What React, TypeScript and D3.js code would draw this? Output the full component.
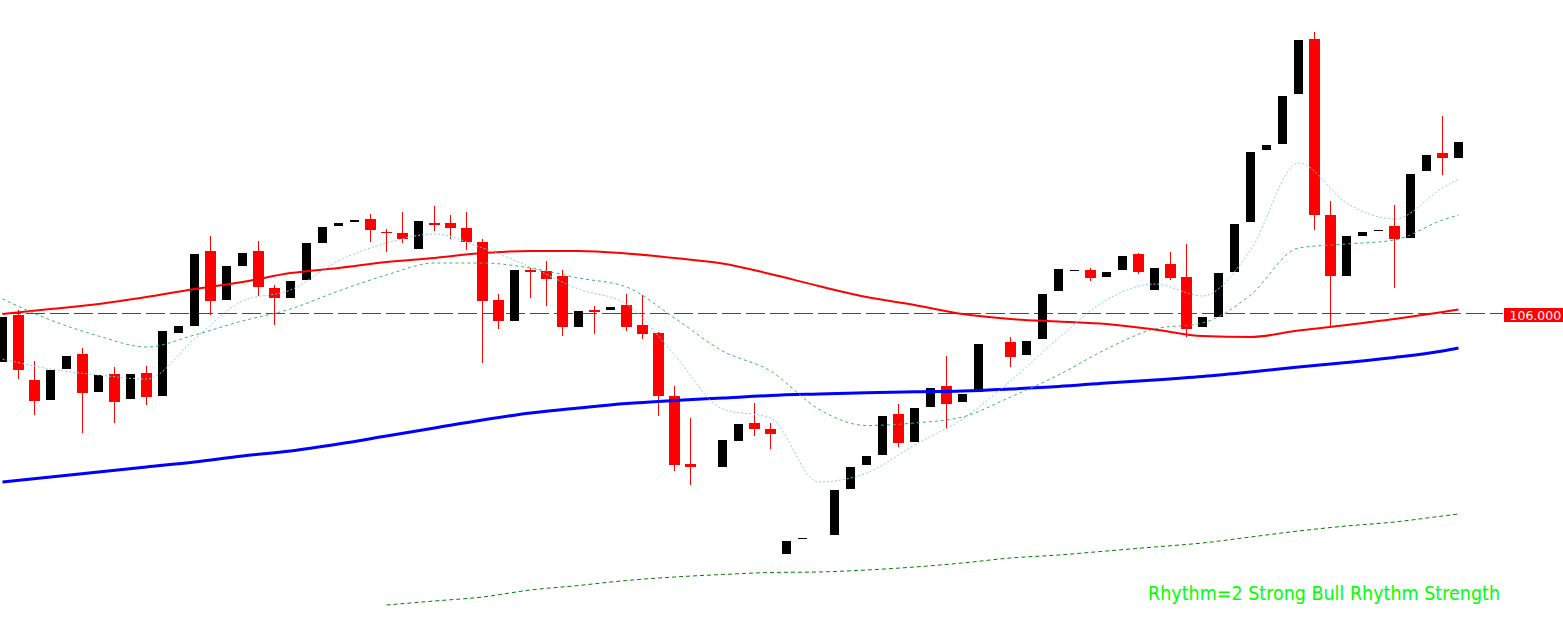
import React from 'react';
import * as d3 from 'd3';

const W = 1563;
const H = 622;

// OHLC per bar (null = no bar drawn)
const opens: (number | null)[] = [
  105.52, 105.99, 105.34, 105.14, 105.45, 105.60, 105.22, 105.40, 105.15, 105.41,
  105.18, 105.81, 105.88, 106.63, 106.14, 106.48, 106.63, 106.26, 106.16, 106.34,
  106.71, 106.88, 106.92, 106.95, 106.82, 106.81, 106.65, 106.91, 106.91, 106.86,
  106.72, 106.14, 105.93, 106.44, 106.43, 106.38, 105.87, 106.04, 106.04, 106.09,
  105.89, 105.81, 105.18, 104.50, null, 104.47, 104.73, 104.91, 104.85, 103.60,
  103.75, null, 103.79, 104.25, 104.49, 104.59, 105.00, 104.72, 105.07, 105.28,
  105.12, 105.22, null, 105.72, 105.59, 105.75, 106.23, 106.43, 106.44, 106.37,
  106.44, 106.60, 106.24, 106.50, 106.37, 105.87, 105.97, 106.42, 106.92, 107.64,
  107.70, 108.20, 108.75, 106.99, 106.38, 106.78, 106.83, 106.88, 106.76, 107.43,
  107.61, 107.56,
];
const highs: (number | null)[] = [
  105.97, 106.04, 105.53, 105.44, 105.58, 105.66, 105.39, 105.47, 105.40, 105.48,
  105.83, 105.88, 106.60, 106.78, 106.48, 106.61, 106.73, 106.29, 106.33, 106.71,
  106.87, 106.91, 106.94, 107.00, 106.85, 107.02, 106.93, 107.08, 106.99, 107.02,
  106.75, 106.20, 106.44, 106.46, 106.53, 106.44, 106.03, 106.08, 106.07, 106.20,
  106.19, 105.82, 105.28, 104.96, null, 104.74, 104.90, 105.11, 104.91, 103.73,
  103.76, null, 104.24, 104.47, 104.58, 104.98, 105.10, 105.06, 105.26, 105.58,
  105.20, 105.70, null, 105.77, 105.73, 106.20, 106.45, 106.44, 106.46, 106.42,
  106.58, 106.61, 106.46, 106.62, 106.70, 105.97, 106.41, 106.90, 107.62, 107.69,
  108.18, 108.74, 108.82, 107.13, 106.78, 106.82, 106.84, 107.09, 107.40, 107.59,
  107.98, 107.72,
];
const lows: (number | null)[] = [
  105.52, 105.35, 104.99, 105.14, 105.45, 104.81, 105.22, 104.91, 105.15, 105.09,
  105.18, 105.81, 105.88, 105.99, 106.14, 106.48, 106.18, 105.89, 106.16, 106.34,
  106.71, 106.88, 106.92, 106.72, 106.62, 106.71, 106.65, 106.83, 106.75, 106.64,
  105.51, 105.85, 105.93, 106.16, 106.08, 105.78, 105.87, 105.80, 106.04, 105.83,
  105.75, 104.98, 104.43, 104.29, null, 104.47, 104.73, 104.78, 104.65, 103.60,
  103.75, null, 103.79, 104.25, 104.49, 104.59, 104.67, 104.72, 105.07, 104.85,
  105.12, 105.22, null, 105.47, 105.59, 105.75, 106.23, 106.43, 106.33, 106.37,
  106.44, 106.40, 106.24, 106.34, 105.77, 105.87, 105.97, 106.42, 106.92, 107.64,
  107.70, 108.20, 106.84, 105.86, 106.38, 106.78, 106.83, 106.26, 106.76, 107.43,
  107.39, 107.56,
];
const closes: (number | null)[] = [
  105.97, 105.44, 105.13, 105.44, 105.58, 105.21, 105.39, 105.12, 105.40, 105.17,
  105.83, 105.88, 106.60, 106.13, 106.48, 106.61, 106.27, 106.16, 106.33, 106.71,
  106.87, 106.91, 106.94, 106.84, 106.81, 106.75, 106.93, 106.89, 106.86, 106.72,
  106.13, 105.93, 106.44, 106.42, 106.35, 105.87, 106.03, 106.02, 106.07, 105.87,
  105.80, 105.18, 104.49, 104.47, null, 104.74, 104.90, 104.85, 104.80, 103.73,
  103.76, null, 104.24, 104.47, 104.58, 104.98, 104.71, 105.06, 105.26, 105.10,
  105.20, 105.70, null, 105.57, 105.73, 106.20, 106.45, 106.44, 106.36, 106.42,
  106.58, 106.42, 106.46, 106.36, 105.85, 105.97, 106.41, 106.90, 107.62, 107.69,
  108.18, 108.74, 106.99, 106.38, 106.78, 106.82, 106.84, 106.75, 107.40, 107.59,
  107.56, 107.72,
];

// Indicator lines, sampled at bar indices
const lineIdx = [0, 3, 6, 9, 12, 15, 18, 21, 24, 27, 30, 33, 36, 39, 42, 45, 48, 51, 54, 57, 60, 63, 66, 69, 72, 75, 78, 81, 84, 87, 90, 91];
const maRed = [106.00, 106.05, 106.10, 106.17, 106.25, 106.32, 106.41, 106.46, 106.52, 106.56, 106.61, 106.63, 106.63, 106.605, 106.56, 106.505, 106.40, 106.28, 106.17, 106.09, 106.00, 105.95, 105.925, 105.90, 105.845, 105.78, 105.77, 105.835, 105.89, 105.95, 106.02, 106.045];
const maBlue = [104.32, 104.37, 104.42, 104.47, 104.52, 104.58, 104.63, 104.70, 104.78, 104.86, 104.94, 105.01, 105.06, 105.105, 105.135, 105.16, 105.185, 105.20, 105.213, 105.222, 105.23, 105.25, 105.275, 105.31, 105.34, 105.375, 105.42, 105.47, 105.515, 105.565, 105.63, 105.66];
const maCyan = [105.55, 105.45, 105.39, 105.35, 105.75, 106.13, 106.24, 106.53, 106.71, 106.80, 106.66, 106.47, 106.25, 106.10, 105.59, 105.05, 104.96, 104.32, 104.41, 104.69, 104.95, 105.33, 105.76, 106.14, 106.30, 106.18, 106.64, 107.51, 107.11, 106.95, 107.26, 107.35];
const maGreen = [106.15, 105.94, 105.78, 105.67, 105.79, 105.93, 106.05, 106.23, 106.39, 106.51, 106.51, 106.46, 106.36, 106.27, 105.96, 105.63, 105.43, 105.05, 104.885, 104.91, 104.97, 105.17, 105.39, 105.65, 105.85, 105.91, 106.19, 106.66, 106.70, 106.74, 106.94, 106.99];
const longIdx = [24, 27, 30, 33, 36, 39, 42, 45, 48, 51, 54, 57, 60, 63, 66, 69, 72, 75, 78, 81, 84, 87, 90, 91];
const maLong = [103.09, 103.13, 103.17, 103.24, 103.285, 103.335, 103.37, 103.395, 103.415, 103.42, 103.44, 103.47, 103.51, 103.56, 103.59, 103.63, 103.67, 103.71, 103.77, 103.83, 103.88, 103.92, 103.98, 104.00];

const levelPrice = 106.0;
const levelLabel = '106.000';
const caption = 'Rhythm=2 Strong Bull Rhythm Strength';

export default function App() {
  const x = d3.scaleLinear().domain([0, 91]).range([2.5, 1458.5]);
  const y = d3.scaleLinear().domain([109.14, 102.92]).range([0, H]);

  const mk = (idx: number[]) =>
    d3
      .line<number>()
      .x((_, k) => x(idx[k]))
      .y((d) => y(d))
      .curve(d3.curveMonotoneX);

  const candles = opens.map((o, i) => {
    const c = closes[i];
    const h = highs[i];
    const l = lows[i];
    if (o == null || c == null || h == null || l == null) return null;
    const cx = x(i);
    const bull = c >= o;
    const top = Math.round(y(Math.max(o, c)));
    const bot = Math.round(y(Math.min(o, c)));
    const bh = Math.max(1, bot - top);
    const color = bull ? '#000000' : '#ff0000';
    const bw = bull ? 9 : 11;
    const yh = Math.round(y(h));
    const yl = Math.round(y(l));
    return (
      <g key={i}>
        <rect x={cx - 0.5} y={yh} width={1} height={Math.max(1, yl - yh)} fill={color} />
        <rect x={cx - bw / 2} y={top} width={bw} height={bh} fill={color} />
      </g>
    );
  });

  const ly = Math.round(y(levelPrice)) - 0.5;

  return (
    <svg
      width={W}
      height={H}
      style={{ position: 'absolute', left: 0, top: 0, background: '#ffffff' }}
      shapeRendering="crispEdges"
    >
      <rect x={0} y={0} width={W} height={H} fill="#ffffff" />
      <line x1={2} x2={1503} y1={ly} y2={ly} stroke="#ff0000" strokeWidth={1} strokeDasharray="19,5" />
      {candles}
      <g fill="none" shapeRendering="auto">
        <path d={mk(lineIdx)(maRed) || ''} stroke="#ff0000" strokeWidth={2} />
        <path d={mk(lineIdx)(maBlue) || ''} stroke="#0000ff" strokeWidth={3} />
        <path d={mk(lineIdx)(maCyan) || ''} stroke="#87ceeb" strokeWidth={1} strokeDasharray="2,2" />
        <path d={mk(lineIdx)(maGreen) || ''} stroke="#3cb371" strokeWidth={1} strokeDasharray="3,3" />
        <path d={mk(longIdx)(maLong) || ''} stroke="#008000" strokeWidth={1} strokeDasharray="4,3" />
      </g>
      <rect x={1504} y={ly - 6} width={59} height={14} fill="#ff0000" />
      <text
        x={1509.5}
        y={ly + 6}
        fill="#ffffff"
        fontFamily="'DejaVu Sans', sans-serif"
        fontSize={12.5}
        shapeRendering="auto"
      >
        {levelLabel}
      </text>
      <text
        x={1148}
        y={599.5}
        fill="#00ff00"
        fontFamily="'DejaVu Sans Condensed', 'DejaVu Sans', sans-serif"
        fontSize={19}
        textLength={352}
        lengthAdjust="spacingAndGlyphs"
      >
        {caption}
      </text>
    </svg>
  );
}
